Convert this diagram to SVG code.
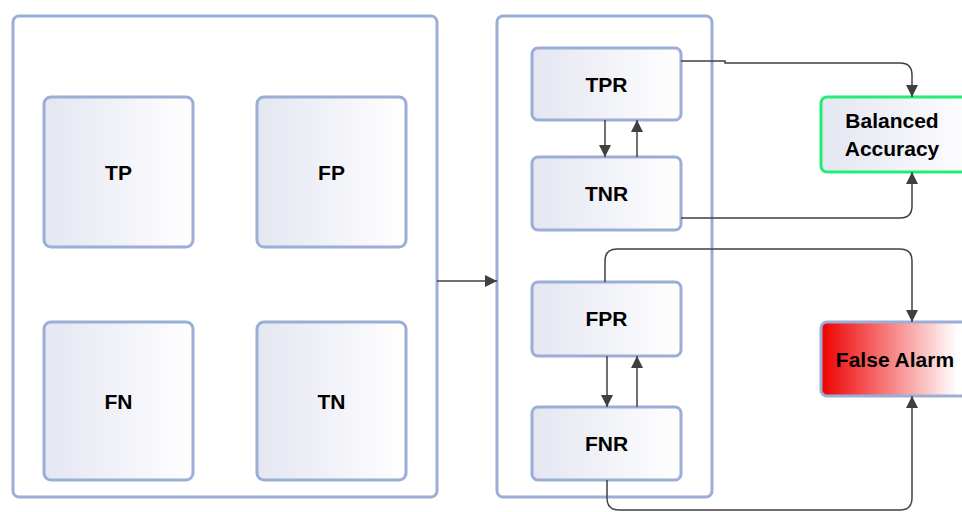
<svg xmlns="http://www.w3.org/2000/svg" width="962" height="512" viewBox="0 0 962 512">
<defs>
<linearGradient id="g" x1="0" y1="0" x2="1" y2="0">
<stop offset="0" stop-color="#e4e6f1"/>
<stop offset="1" stop-color="#ffffff"/>
</linearGradient>
<linearGradient id="red" x1="0" y1="0" x2="1" y2="0">
<stop offset="0" stop-color="#ee0000"/>
<stop offset="0.85" stop-color="#ffffff"/>
</linearGradient>
<marker id="ah" viewBox="0 0 12 12" refX="12" refY="6" markerWidth="12" markerHeight="12" markerUnits="userSpaceOnUse" orient="auto">
<path d="M0,0 L12,6 L0,12 Z" fill="#404040"/>
</marker>
<style>
.cont{fill:#ffffff;stroke:#9aaed6;stroke-width:3}
.box{fill:url(#g);stroke:#9aaed6;stroke-width:3}
.lbl{font-family:"Liberation Sans",Arial,sans-serif;font-weight:bold;font-size:21px;fill:#000;text-anchor:middle}
.c{fill:none;stroke:#404040;stroke-width:1.5;marker-end:url(#ah)}
</style>
</defs>
<g id="confusion">
<rect class="cont" x="13" y="16" width="424" height="481" rx="6"/>
</g>
<g id="rates">
<rect class="cont" x="497" y="16" width="215" height="481" rx="6"/>
</g>
<g id="TP"><rect class="box" x="44" y="97" width="149" height="150" rx="7"/><text class="lbl" x="118.5" y="180">TP</text></g>
<g id="FP"><rect class="box" x="257" y="97" width="149" height="150" rx="7"/><text class="lbl" x="331.5" y="180">FP</text></g>
<g id="FN"><rect class="box" x="44" y="322" width="149" height="158" rx="7"/><text class="lbl" x="118.5" y="409">FN</text></g>
<g id="TN"><rect class="box" x="257" y="322" width="149" height="158" rx="7"/><text class="lbl" x="331.5" y="409">TN</text></g>
<g id="TPR"><rect class="box" x="532" y="48" width="149" height="72" rx="6"/><text class="lbl" x="606.5" y="92">TPR</text></g>
<g id="TNR"><rect class="box" x="532" y="157" width="149" height="73" rx="6"/><text class="lbl" x="606.5" y="201">TNR</text></g>
<g id="FPR"><rect class="box" x="532" y="282" width="149" height="74" rx="6"/><text class="lbl" x="606.5" y="326">FPR</text></g>
<g id="FNR"><rect class="box" x="532" y="407" width="149" height="73" rx="6"/><text class="lbl" x="606.5" y="451">FNR</text></g>
<g id="BalancedAccuracy"><rect x="821" y="97" width="160" height="75" rx="6" fill="url(#g)" stroke="#22ee77" stroke-width="3"/><text class="lbl" x="892" y="128">Balanced</text><text class="lbl" x="892" y="156">Accuracy</text></g>
<g id="FalseAlarm"><rect x="821" y="322" width="160" height="74" rx="6" fill="url(#red)" stroke="#9aaed6" stroke-width="3"/><text class="lbl" x="895" y="367">False Alarm</text></g>
<g id="connectors">
<path class="c" d="M437,281 H497"/>
<path class="c" d="M605,120 V157"/>
<path class="c" d="M637,157 V120"/>
<path class="c" d="M607,356 V407"/>
<path class="c" d="M637,407 V356"/>
<path class="c" d="M681,61 H725 V63 H900 Q912,63 912,75 V97"/>
<path class="c" d="M681,218 H900 Q912,218 912,206 V172"/>
<path class="c" d="M605,282 V261 Q605,249 617,249 H900 Q912,249 912,261 V322"/>
<path class="c" d="M607,480 V498 Q607,510 619,510 H900 Q912,510 912,498 V396"/>
</g>
</svg>
